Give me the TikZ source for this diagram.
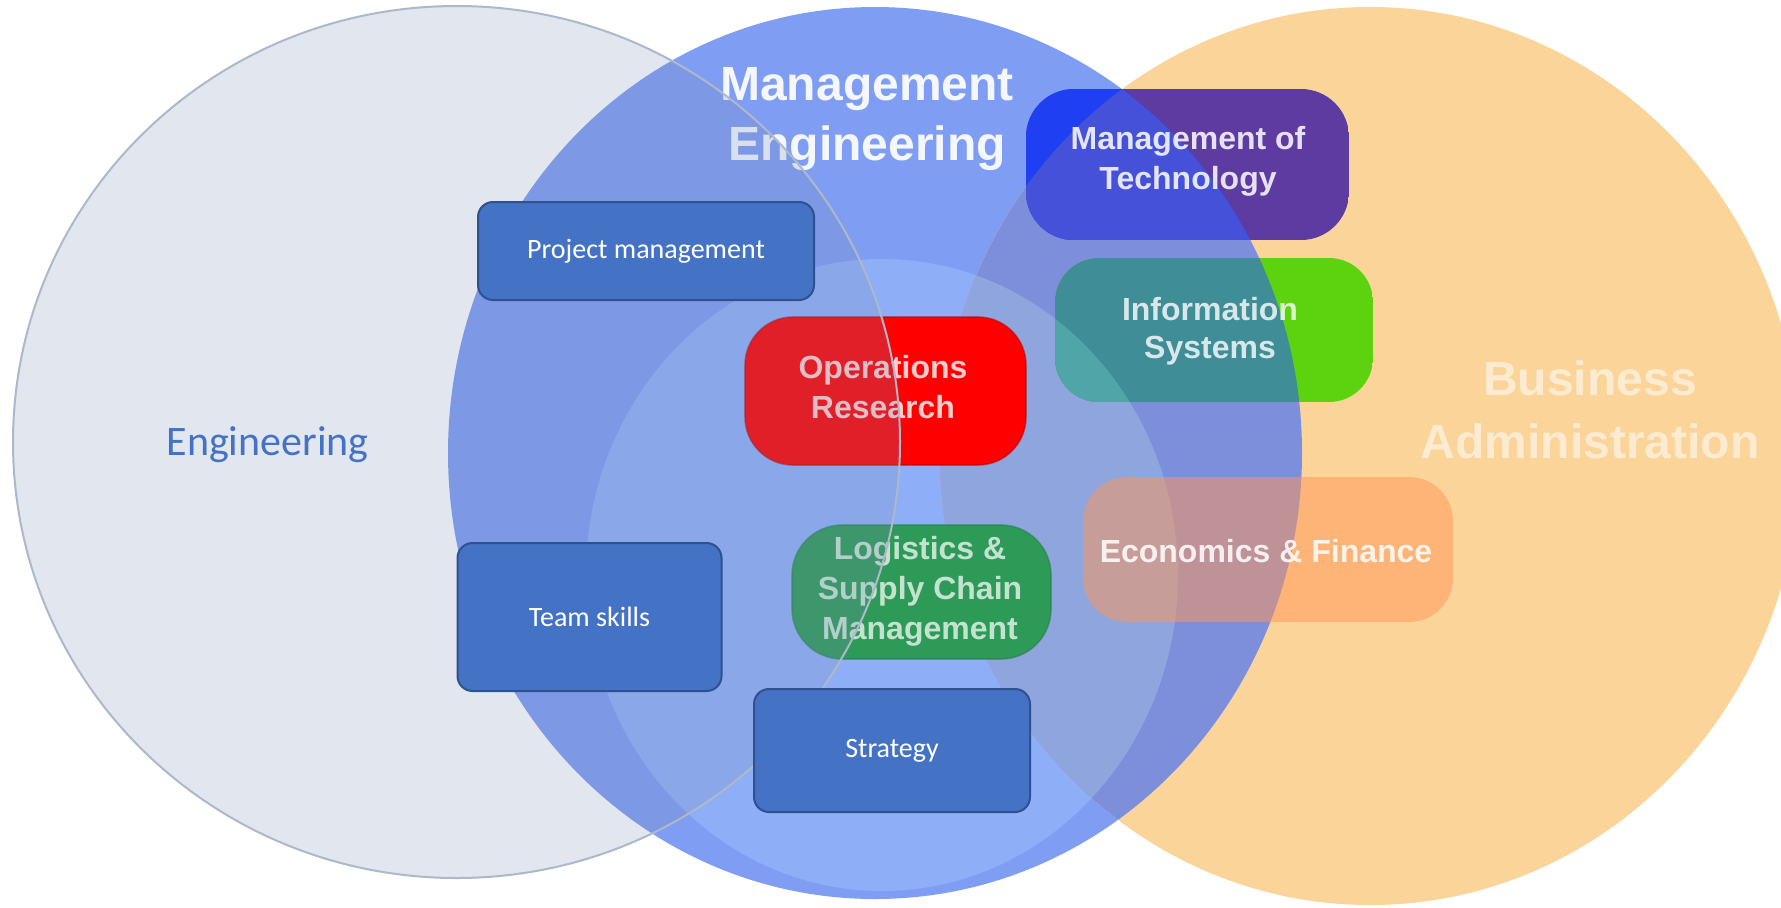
\documentclass[tikz,border=0pt]{standalone}
\usepackage{fontspec}
\setmainfont{Liberation Sans}
\newfontfamily\calibri{Carlito}
\newcommand{\mlines}[1]{\begin{tabular}[t]{@{}c@{}}#1\end{tabular}}
\definecolor{blueRing}{HTML}{7F9DF3}
\definecolor{blueInner}{HTML}{8EAEF8}
\definecolor{orangeC}{HTML}{FBD499}
\definecolor{ringOrange}{HTML}{7D8EDB}
\definecolor{innerOrange}{HTML}{8FA5DE}
\definecolor{motPurple}{HTML}{5D3BA0}
\definecolor{motBlue}{HTML}{1F40F2}
\definecolor{motMid}{HTML}{4451D8}
\definecolor{isGreen}{HTML}{5CD30E}
\definecolor{isTeal}{HTML}{3F8D97}
\definecolor{isLight}{HTML}{4FA5A8}
\definecolor{orRed}{HTML}{FF0000}
\definecolor{lgGreen}{HTML}{2E9A58}
\definecolor{efOrange}{HTML}{FF9655}
\definecolor{engFill}{RGB}{120,143,183}
\definecolor{engLine}{HTML}{ADB8CA}
\definecolor{offBlue}{HTML}{4472C4}
\definecolor{offLine}{HTML}{2F528F}
\begin{document}
\begin{tikzpicture}[x=0.5pt,y=-0.5pt,
  imgtxt/.style={font=\bfseries\fontsize{16}{20}\selectfont, text=white, inner sep=0pt, anchor=base},
  bigtxt/.style={font=\bfseries\fontsize{24}{30}\selectfont, text=white, inner sep=0pt, anchor=base},
  imgbox/.style={inner sep=0pt, draw=none},
  obox/.style={draw=offLine, line width=1pt, fill=offBlue, rounded corners=7.5pt, text=white,
     font=\calibri\fontsize{14}{17}\selectfont, inner sep=0pt},
  blueell/.style={},
]
\path[use as bounding box] (0,0) rectangle (1781,907);
\clip (0,0) rectangle (1781,907);
\fill[white] (0,0) rectangle (1781,907);

% --- Management Engineering picture ---
\fill[blueRing] (875,453) ellipse [x radius=213.5pt, y radius=223pt];
\begin{scope}
  \clip (875,453) ellipse [x radius=213.5pt, y radius=223pt];
  \fill[blueInner] (882,575) ellipse [x radius=148pt, y radius=158pt];
\end{scope}
\begin{scope}
  \fill[orangeC] (1370,456) ellipse [x radius=215pt, y radius=224.5pt];
  \clip (1370,456) ellipse [x radius=215pt, y radius=224.5pt];
  \fill[ringOrange] (875,453) ellipse [x radius=213.5pt, y radius=223pt];
  \clip (875,453) ellipse [x radius=213.5pt, y radius=223pt];
  \fill[innerOrange] (882,575) ellipse [x radius=148pt, y radius=158pt];
\end{scope}

% Management of Technology box
\begin{scope}
  \clip[rounded corners=24pt] (1026,89) rectangle (1349,240);
  \fill[motPurple] (1026,89) rectangle (1349,240);
  \clip (875,453) ellipse [x radius=213.5pt, y radius=223pt];
  \fill[motBlue] (1026,89) rectangle (1349,240);
  \clip (1370,456) ellipse [x radius=215pt, y radius=224.5pt];
  \fill[motMid] (1026,89) rectangle (1349,240);
\end{scope}
% Information Systems box
\begin{scope}
  \clip[rounded corners=22pt] (1055,258) rectangle (1373,402);
  \fill[isGreen] (1055,258) rectangle (1373,402);
  \clip (875,453) ellipse [x radius=213.5pt, y radius=223pt];
  \fill[isTeal] (1055,258) rectangle (1373,402);
  \clip (882,575) ellipse [x radius=148pt, y radius=158pt];
  \fill[isLight] (1055,258) rectangle (1373,402);
\end{scope}

\node[imgbox, fill=orRed, draw=orRed!70!black, draw opacity=0.5, line width=0.8pt,
  rounded corners=24pt, minimum width=140.5pt, minimum height=74pt] (orbox) at (885.5,391) {};
\node[imgbox, fill=lgGreen, draw=lgGreen!80!black, draw opacity=0.5, line width=0.8pt,
  rounded corners=25pt, minimum width=129.5pt, minimum height=67pt] (lgbox) at (921.5,592) {};
\node[imgbox, fill=efOrange, fill opacity=0.5, rounded corners=22pt,
  minimum width=185pt, minimum height=72.5pt] (efbox) at (1268,549.5) {};

\node[bigtxt, text opacity=0.92] (me) at (867,100) {\mlines{Management\\Engineering}};
\node[bigtxt, text opacity=0.55, font=\bfseries\fontsize{24}{31.5}\selectfont] (ba) at (1590,395) {\mlines{Business\\Administration}};
\node[imgtxt, text opacity=0.85] (mot) at (1188,149) {\mlines{Management of\\Technology}};
\node[imgtxt, text opacity=0.8, font=\bfseries\fontsize{16}{19}\selectfont] (is) at (1210,320) {\mlines{Information\\Systems}};
\node[imgtxt, text opacity=0.8] (or) at (883,378) {\mlines{Operations\\Research}};
\node[imgtxt, text opacity=0.72] (lg) at (920,559) {\mlines{Logistics \&\\Supply Chain\\Management}};
\node[imgtxt, text opacity=0.85] (ef) at (1266,562) {Economics \& Finance};

% --- Engineering ellipse overlay ---
\fill[engFill, fill opacity=0.22] (456.5,442) ellipse [x radius=221.75pt, y radius=218pt];
\draw[engLine, line width=1pt] (456.5,442) ellipse [x radius=221.75pt, y radius=218pt];
\node[inner sep=0pt, anchor=base, text=offBlue, font=\calibri\fontsize{21}{25}\selectfont] (eng) at (267.5,455) {Engineering};

% --- Office boxes ---
\node[obox, minimum width=168pt, minimum height=49pt] (pm) at (646,251) {Project management};
\node[obox, minimum width=132pt, minimum height=74pt] (ts) at (589.5,617) {Team skills};
\node[obox, minimum width=138pt, minimum height=61.5pt] (st) at (892,750.5) {Strategy};
\end{tikzpicture}
\end{document}
